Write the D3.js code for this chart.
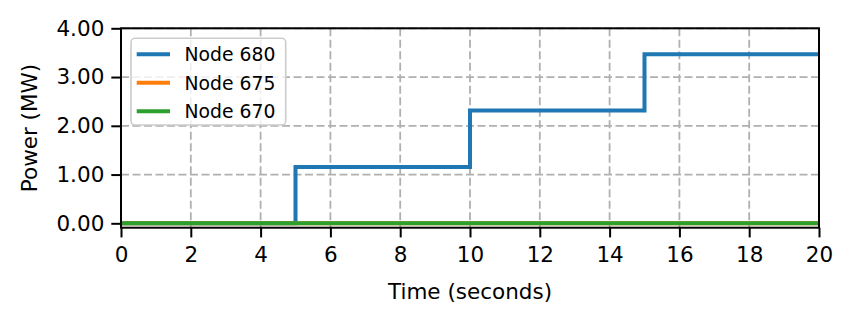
<!DOCTYPE html>
<html>
<head>
<meta charset="utf-8">
<script src="https://cdn.jsdelivr.net/npm/d3@7"></script>
<style>
  body { margin: 0; background: #fff; }
  svg { display: block; font-family: "DejaVu Sans", sans-serif; }
</style>
</head>
<body>
<svg id="chart" width="853" height="322"></svg>
<script>
// ---- data ----
const times = [0, 5, 10, 15, 20];
const node680 = [0, 1.157, 2.315, 3.47, 3.47];
const node675 = [0, 0, 0, 0, 0];
const node670 = [0, 0, 0, 0, 0];
const seriesNames = ["Node 680", "Node 675", "Node 670"];
const seriesColors = ["#1f77b4", "#ff7f0e", "#2ca02c"];
const xTicks = [0, 2, 4, 6, 8, 10, 12, 14, 16, 18, 20];
const yTicks = [0, 1, 2, 3, 4];
const xLabel = "Time (seconds)";
const yLabel = "Power (MW)";

// ---- layout ----
const svg = d3.select("#chart");
const L = 121, R = 819, T = 28.3, B = 227.7;
const x = d3.scaleLinear().domain([0, 20]).range([L, R]);
const y = d3.scaleLinear().domain([-0.09, 4]).range([B, T]);

// grid
const grid = svg.append("g");
grid.selectAll("line.gx").data(xTicks).join("line")
  .attr("x1", d => x(d)).attr("x2", d => x(d))
  .attr("y1", T).attr("y2", B)
  .attr("stroke", "#b0b0b0").attr("stroke-width", 1.8)
  .attr("stroke-dasharray", "8,3.5");
grid.selectAll("line.gy").data(yTicks).join("line")
  .attr("x1", L).attr("x2", R)
  .attr("y1", d => y(d)).attr("y2", d => y(d))
  .attr("stroke", "#b0b0b0").attr("stroke-width", 1.8)
  .attr("stroke-dasharray", "8,3.5");

// lines
const allSeries = [node680, node675, node670];
const line = d3.line().x((d, i) => x(times[i])).y(d => y(d)).curve(d3.curveStepAfter);
svg.append("g").selectAll("path").data(allSeries).join("path")
  .attr("d", d => line(d))
  .attr("fill", "none")
  .attr("stroke", (d, i) => seriesColors[i])
  .attr("stroke-width", 4)
  .attr("stroke-linejoin", "miter")
  .attr("stroke-linecap", "butt");

// axes
const xAxis = d3.axisBottom(x).tickValues(xTicks).tickFormat(d3.format("d"))
  .tickSizeInner(9.7).tickSizeOuter(0).tickPadding(9);
const yAxis = d3.axisLeft(y).tickValues(yTicks).tickFormat(d3.format(".2f"))
  .tickSizeInner(9.7).tickSizeOuter(0).tickPadding(7);

const gx = svg.append("g").attr("transform", `translate(0,${B})`).call(xAxis);
const gy = svg.append("g").attr("transform", `translate(${L},0)`).call(yAxis);
[gx, gy].forEach(g => {
  g.select(".domain").remove();
  g.selectAll(".tick line").attr("stroke", "#000").attr("stroke-width", 2);
  g.selectAll(".tick text").attr("fill", "#000")
    .style("font-family", "DejaVu Sans").style("font-size", "21.5px");
});

// spines
svg.append("rect").attr("x", L).attr("y", T).attr("width", R - L).attr("height", B - T)
  .attr("fill", "none").attr("stroke", "#000").attr("stroke-width", 2);

// axis labels
svg.append("text").attr("x", (L + R) / 2).attr("y", 298.5)
  .attr("text-anchor", "middle").style("font-size", "21.5px").attr("fill", "#000")
  .text(xLabel);
svg.append("text")
  .attr("transform", `translate(36.5,${(T + B) / 2}) rotate(-90)`)
  .attr("text-anchor", "middle").style("font-size", "21.5px").attr("fill", "#000")
  .text(yLabel);

// legend
const lg = svg.append("g");
lg.append("rect").attr("x", 131).attr("y", 38.3).attr("width", 154.7).attr("height", 86.7)
  .attr("rx", 4).attr("ry", 4)
  .attr("fill", "#fff").attr("fill-opacity", 0.8)
  .attr("stroke", "#cccccc").attr("stroke-width", 1.6);
const ly = [54.3, 82.8, 111.3];
seriesNames.forEach((n, i) => {
  lg.append("line").attr("x1", 136.7).attr("x2", 170)
    .attr("y1", ly[i]).attr("y2", ly[i])
    .attr("stroke", seriesColors[i]).attr("stroke-width", 4);
  lg.append("text").attr("x", 184.5).attr("y", ly[i]).attr("dy", "0.36em")
    .style("font-size", "18.8px").attr("fill", "#000").text(n);
});
</script>
</body>
</html>
